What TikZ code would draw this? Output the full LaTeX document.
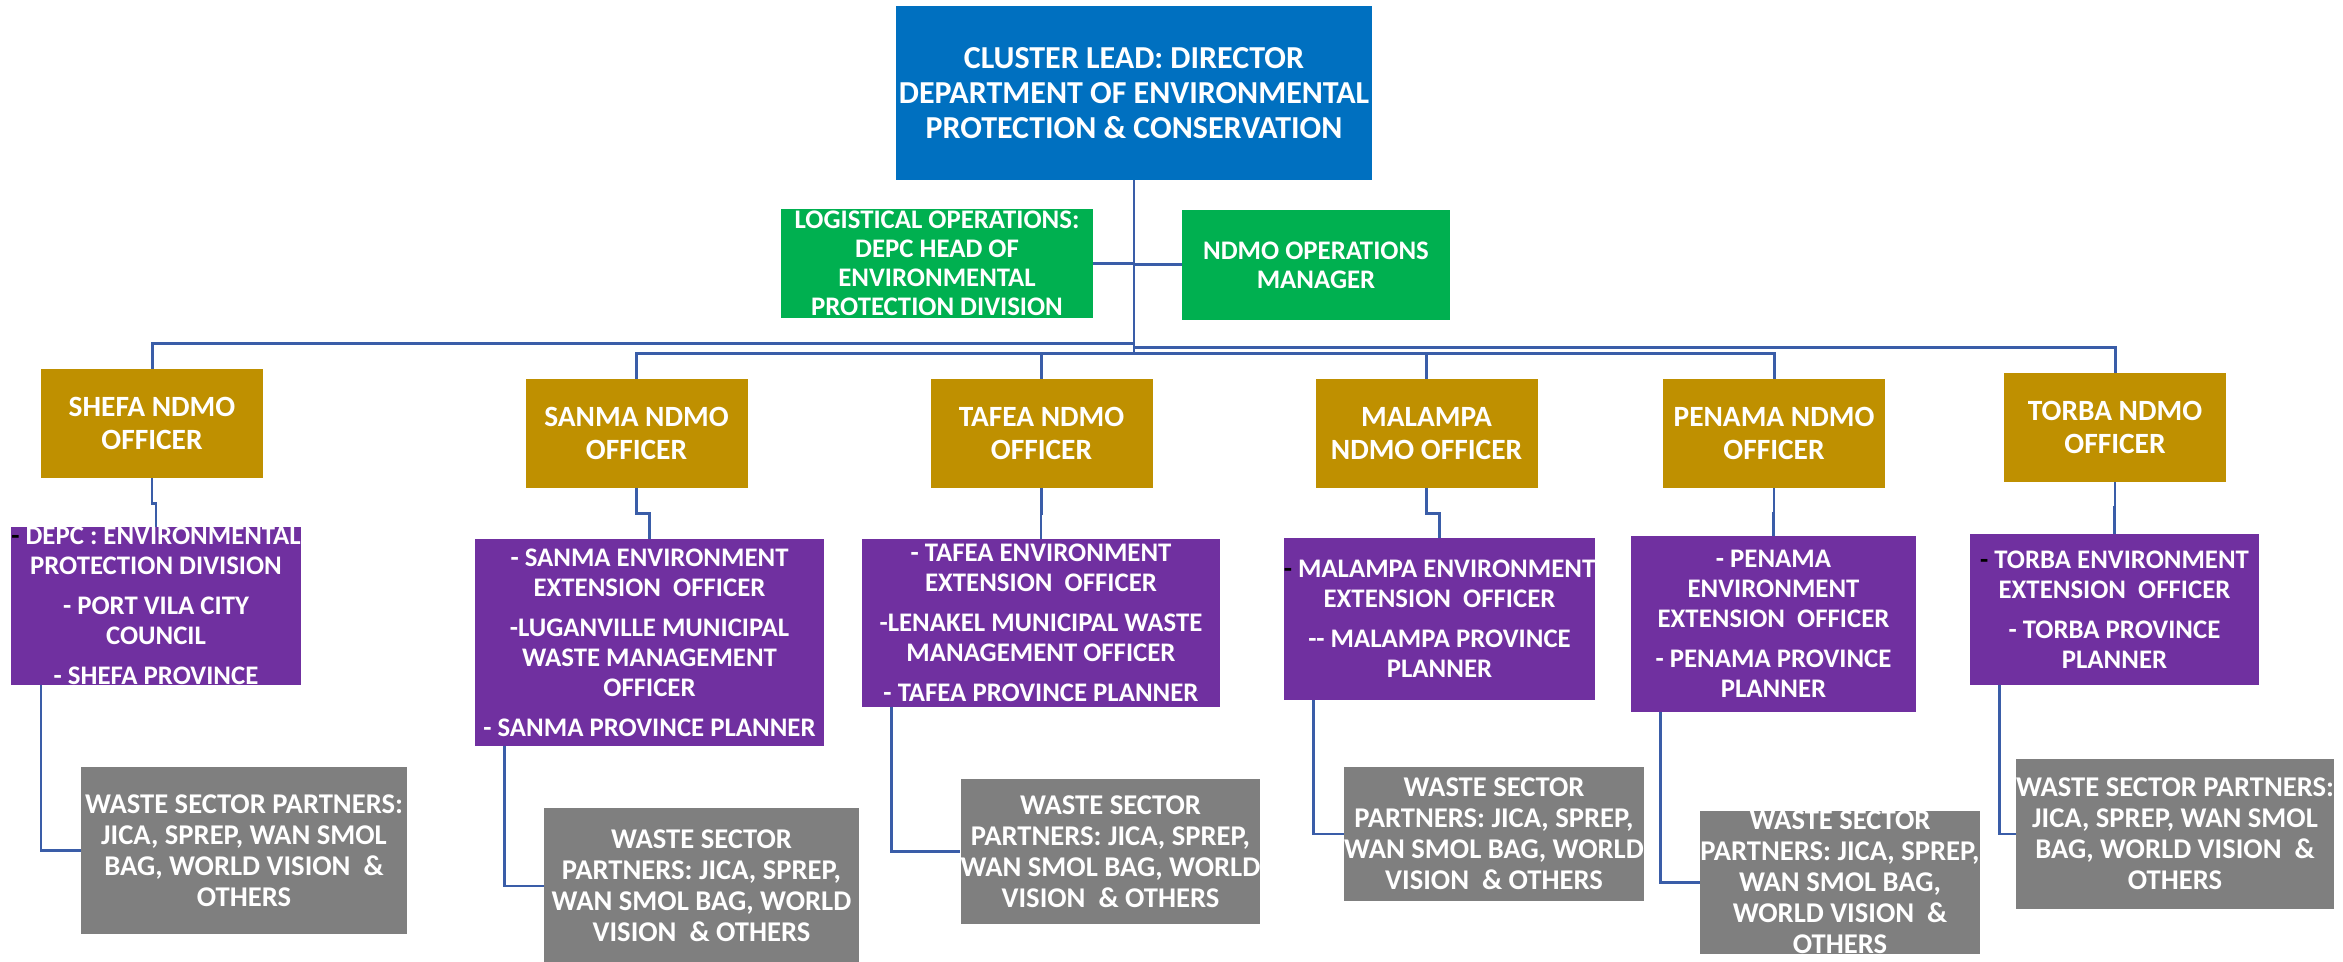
\documentclass[tikz,border=0pt]{standalone}
\usepackage{fontspec}
\setmainfont{Carlito}

\definecolor{leadblue}{HTML}{0070C0}
\definecolor{opsgreen}{HTML}{00B050}
\definecolor{ndmogold}{HTML}{BF9000}
\definecolor{envpurple}{HTML}{7030A0}
\definecolor{partgray}{HTML}{7F7F7F}
\definecolor{linkblue}{HTML}{3A5DA8}

\begin{document}
\begin{tikzpicture}[x = 0.5pt, y = -0.5pt,
    box/.style = { align = center, text = white, inner sep = 0pt },
    lead/.style = { box, fill = leadblue, font = \bfseries\fontsize{16}{17.5}\selectfont },
    ops/.style = { box, fill = opsgreen, font = \bfseries\fontsize{13.4}{14.5}\selectfont },
    officer/.style = { box, fill = ndmogold, minimum width = 111pt, minimum height = 54.5pt,
      font = \bfseries\fontsize{14.7}{16.5}\selectfont },
    env/.style = { box, fill = envpurple, font = \bfseries\fontsize{13.4}{15}\selectfont },
    partners/.style = { box, fill = partgray, font = \bfseries\fontsize{14.3}{15.5}\selectfont },
    bus/.style = { draw = linkblue, line width = 1.5pt },
    link/.style = { draw = linkblue, line width = 1.2pt }]

  \useasboundingbox (0,0) rectangle (2343,962);

  \node [lead, minimum width = 238pt, minimum height = 87pt] (lead) at (1134,93)
    { CLUSTER LEAD: DIRECTOR \\ DEPARTMENT OF ENVIRONMENTAL \\ PROTECTION \& CONSERVATION };
  \node [ops, minimum width = 156pt, minimum height = 54.5pt] (logi) at (937,263.5)
    { LOGISTICAL OPERATIONS: \\ DEPC HEAD OF \\ ENVIRONMENTAL \\ PROTECTION DIVISION };
  \node [ops, minimum width = 134pt, minimum height = 55pt] (ndmo) at (1316,265)
    { NDMO OPERATIONS \\ MANAGER };

  % provincial NDMO officers
  \node [officer] (shefa) at (152,423.5) { SHEFA NDMO \\ OFFICER };
  \node [officer] (sanma) at (636.5,433.5) { SANMA NDMO \\ OFFICER };
  \node [officer] (tafea) at (1041.5,433.5) { TAFEA NDMO \\ OFFICER };
  \node [officer] (malampa) at (1426.5,433.5) { MALAMPA \\ NDMO OFFICER };
  \node [officer] (penama) at (1774,433.5) { PENAMA NDMO \\ OFFICER };
  \node [officer] (torba) at (2115,427.5) { TORBA NDMO \\ OFFICER };

  % environment officers
  \node [env, minimum width = 144.5pt, minimum height = 77pt] (shefa-env) at (156,606)
    { \textcolor{black}{-} DEPC : ENVIRONMENTAL \\ PROTECTION DIVISION \\[5pt]
      - PORT VILA CITY \\ COUNCIL \\[5pt] - SHEFA PROVINCE };
  \node [env, minimum width = 174.5pt, minimum height = 103.5pt] (sanma-env) at (649.5,642.5)
    { - SANMA ENVIRONMENT \\ EXTENSION\ \ OFFICER \\[5pt]
      -LUGANVILLE MUNICIPAL \\ WASTE MANAGEMENT \\ OFFICER \\[5pt] - SANMA PROVINCE PLANNER };
  \node [env, minimum width = 179pt, minimum height = 84pt] (tafea-env) at (1041,623)
    { - TAFEA ENVIRONMENT \\ EXTENSION\ \ OFFICER \\[5pt]
      -LENAKEL MUNICIPAL WASTE \\ MANAGEMENT OFFICER \\[5pt] - TAFEA PROVINCE PLANNER };
  \node [env, minimum width = 155.5pt, minimum height = 81pt] (malampa-env) at (1439.5,619)
    { \textcolor{black}{-} MALAMPA ENVIRONMENT \\ EXTENSION\ \ OFFICER \\[5pt]
      -{}- MALAMPA PROVINCE \\ PLANNER };
  \node [env, minimum width = 142.5pt, minimum height = 88pt] (penama-env) at (1773.5,624)
    { - PENAMA \\ ENVIRONMENT \\ EXTENSION\ \ OFFICER \\[5pt]
      - PENAMA PROVINCE \\ PLANNER };
  \node [env, minimum width = 144.5pt, minimum height = 75.5pt] (torba-env) at (2114.5,609.5)
    { \textcolor{black}{-} TORBA ENVIRONMENT \\ EXTENSION\ \ OFFICER \\[5pt]
      - TORBA PROVINCE \\ PLANNER };

  % waste sector partners
  \node [partners, minimum width = 163pt, minimum height = 83.5pt] (shefa-part) at (244,850.5)
    { WASTE SECTOR PARTNERS: \\ JICA, SPREP, WAN SMOL \\ BAG, WORLD VISION\ \ \& \\ OTHERS };
  \node [partners, minimum width = 157.5pt, minimum height = 78pt] (sanma-part) at (701.5,886)
    { WASTE SECTOR \\ PARTNERS: JICA, SPREP, \\ WAN SMOL BAG, WORLD \\ VISION\ \ \& OTHERS };
  \node [partners, minimum width = 147.5pt, minimum height = 72.5pt] (tafea-part) at (1110.5,851.5)
    { WASTE SECTOR \\ PARTNERS: JICA, SPREP, \\ WAN SMOL BAG, WORLD \\ VISION\ \ \& OTHERS };
  \node [partners, minimum width = 146pt, minimum height = 67pt] (malampa-part) at (1494,834)
    { WASTE SECTOR \\ PARTNERS: JICA, SPREP, \\ WAN SMOL BAG, WORLD \\ VISION\ \ \& OTHERS };
  \node [partners, minimum width = 135pt, minimum height = 71.5pt] (penama-part) at (1840,882.5)
    { WASTE SECTOR \\ PARTNERS: JICA, SPREP, \\ WAN SMOL BAG, \\ WORLD VISION\ \ \& \\ OTHERS };
  \node [partners, minimum width = 156pt, minimum height = 75pt] (torba-part) at (2175,834)
    { WASTE SECTOR PARTNERS: \\ JICA, SPREP, WAN SMOL \\ BAG, WORLD VISION\ \ \& \\ OTHERS };

  % trunk and buses
  \draw [link] (lead.south) -- (lead.south |- 0,354);
  \draw [bus] (logi.east) -- (logi.east -| lead.south);
  \draw [bus] (ndmo.west) -- (ndmo.west -| lead.south);
  \draw [bus] (lead.south |- 0,344) -| (shefa.north);
  \draw [bus] (lead.south |- 0,348) -| (torba.north);
  \foreach \p in {sanma, tafea, malampa, penama}
    \draw [bus] (lead.south |- 0,354) -| (\p.north);

  % officer -> environment -> partners
  \foreach \p in {shefa, sanma, tafea, malampa, penama, torba} {
    \draw [link] (\p.south) -- ++(0,25) -| (\p-env.north);
    \draw [link] ([xshift = 15pt] \p-env.south west) |- (\p-part.west);
  }

\end{tikzpicture}
\end{document}
